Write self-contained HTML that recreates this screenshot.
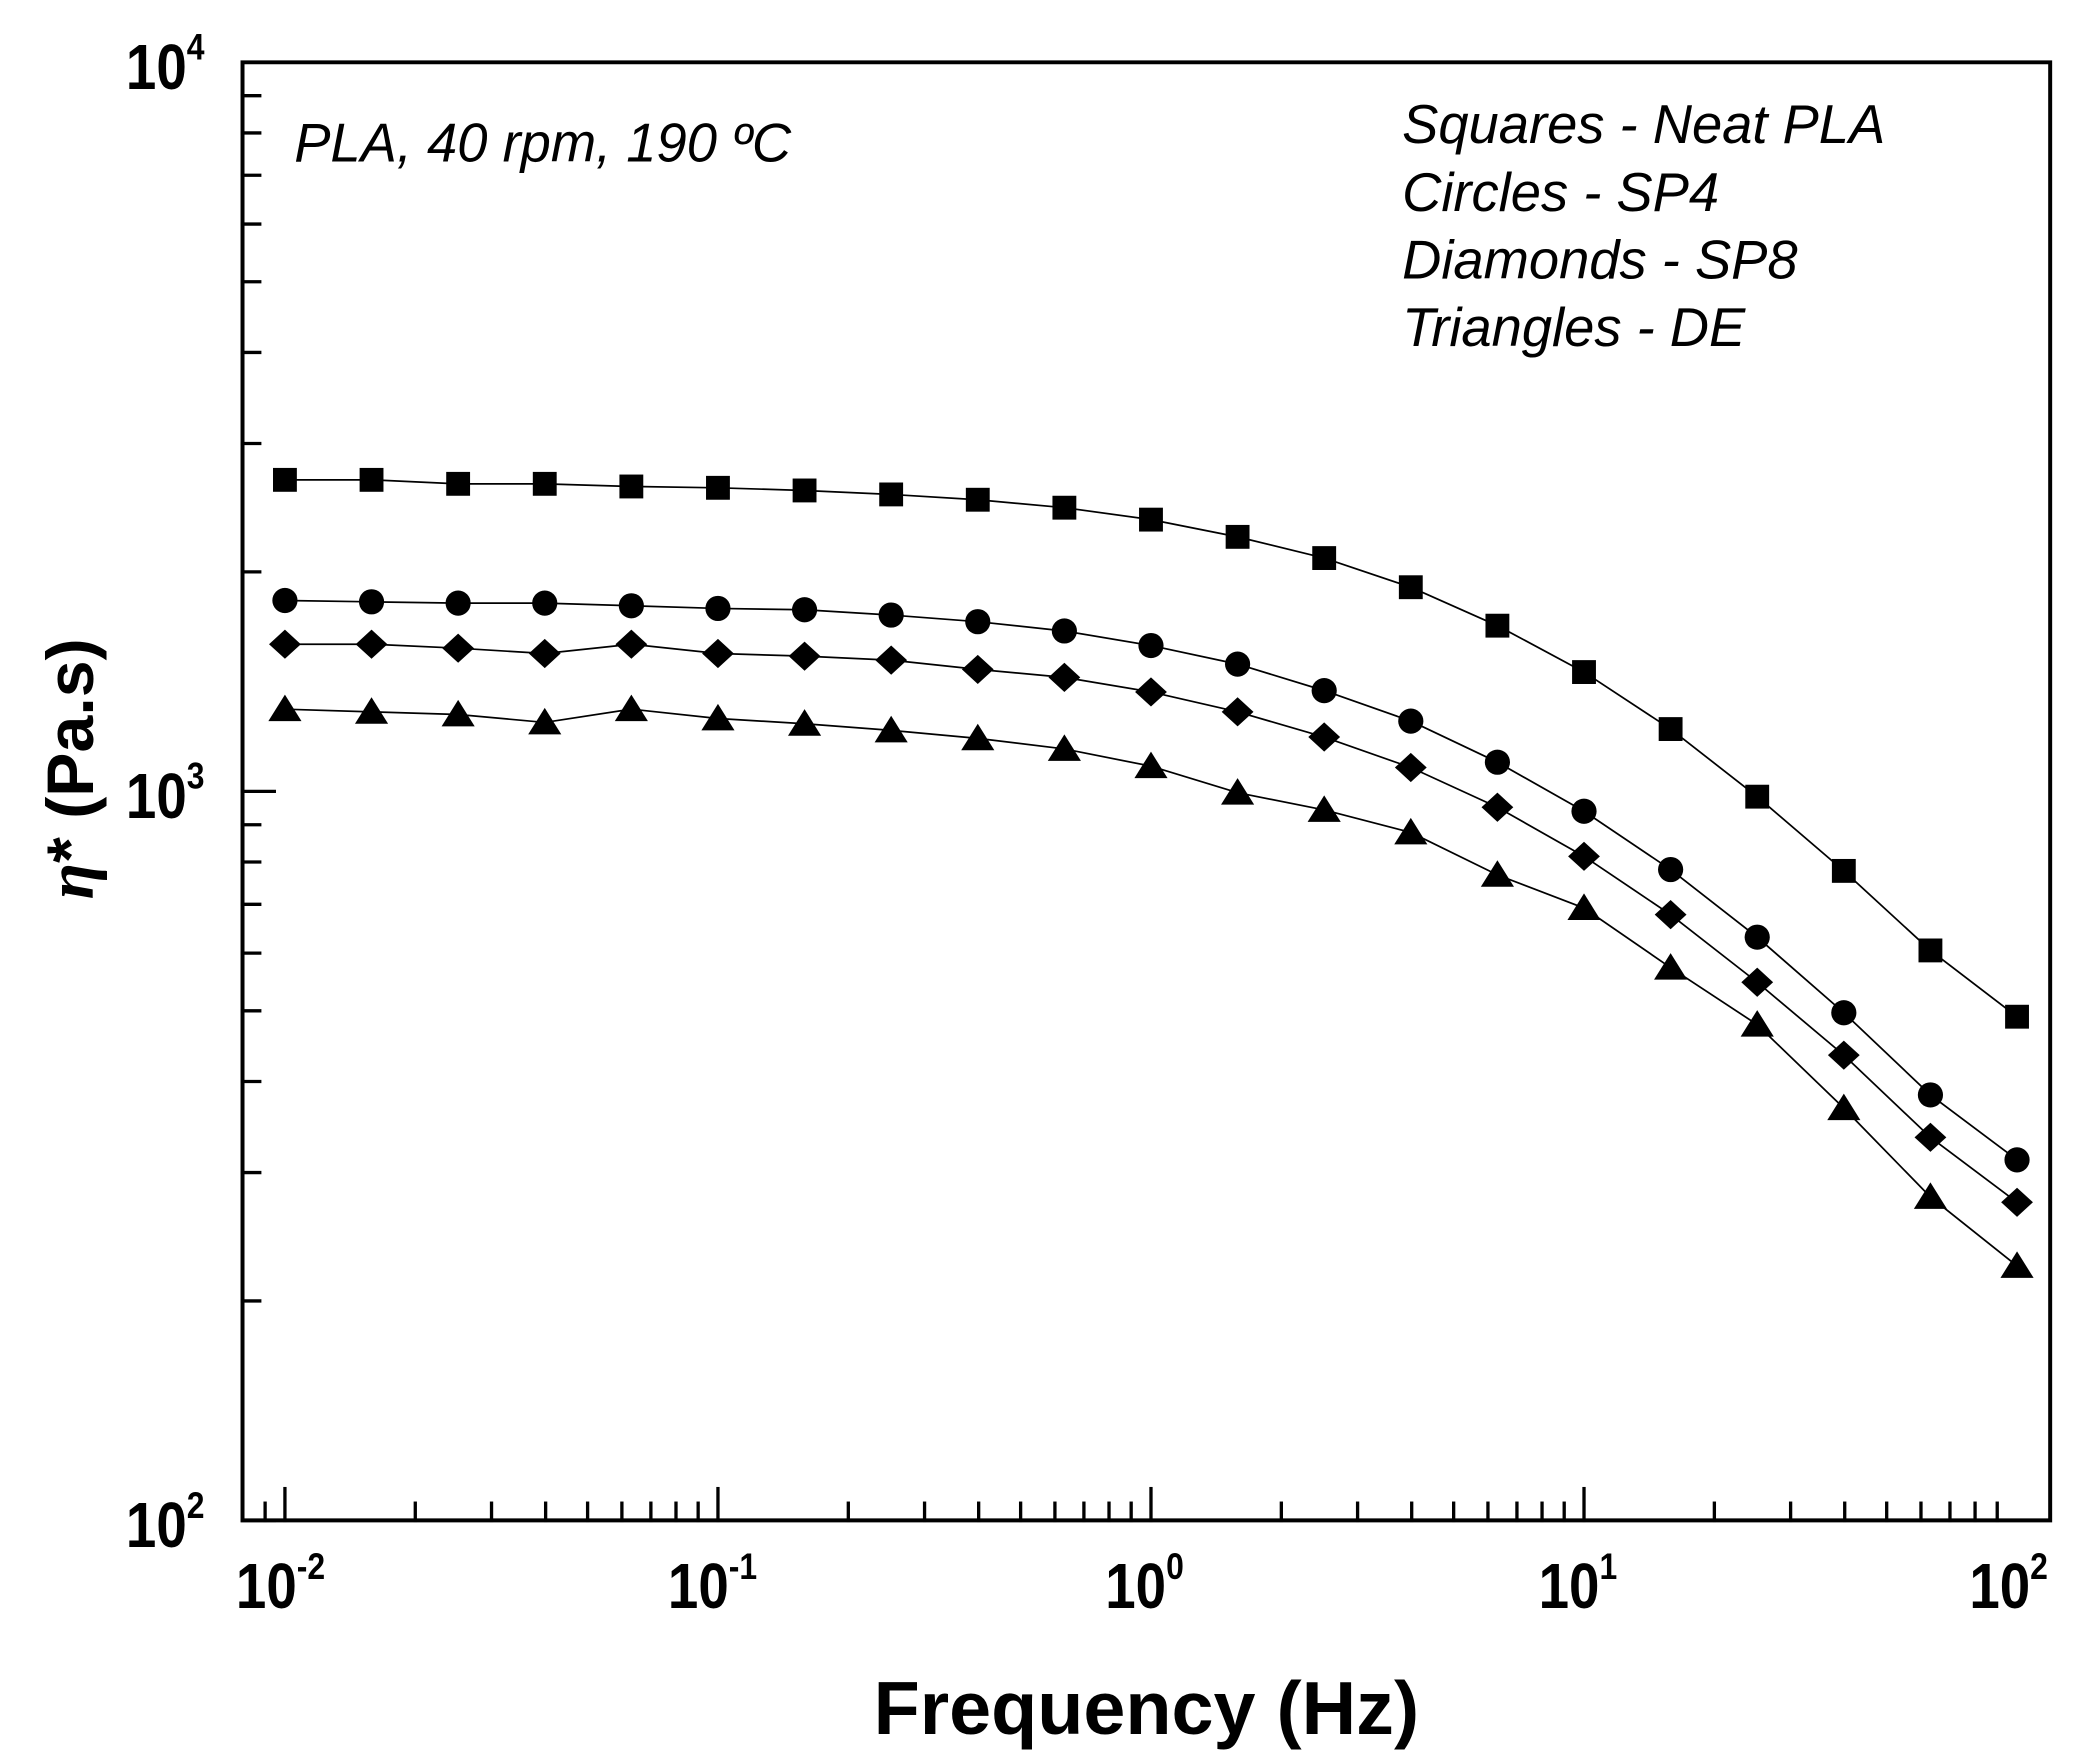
<!DOCTYPE html>
<html><head><meta charset="utf-8">
<style>html,body{margin:0;padding:0;background:#fff;}svg{display:block;}</style>
</head><body>
<svg id="s" width="2078" height="1763" viewBox="0 0 1568 1330" preserveAspectRatio="none" xmlns="http://www.w3.org/2000/svg" font-family="Liberation Sans, Arial, sans-serif">
<rect width="1568" height="1330" fill="#fff"/>
<g id="ax" stroke="#000" fill="none" stroke-linecap="square">
<path d="M183,47 L1547,47 L1547,1147 L183,1147 Z" stroke-width="3"/>
</g>
<g id="series"></g>
<g font-weight="bold" fill="#000" font-size="48">
<g transform="translate(95,67) scale(0.86,1)"><text x="0" y="0">10<tspan dy="-22" font-size="28">4</tspan></text></g>
<g transform="translate(95,617) scale(0.86,1)"><text x="0" y="0">10<tspan dy="-22" font-size="28">3</tspan></text></g>
<g transform="translate(95,1167) scale(0.86,1)"><text x="0" y="0">10<tspan dy="-22" font-size="28">2</tspan></text></g>
<g transform="translate(178,1213) scale(0.86,1)"><text x="0" y="0">10<tspan dy="-22" font-size="28">-2</tspan></text></g>
<g transform="translate(504,1213) scale(0.86,1)"><text x="0" y="0">10<tspan dy="-22" font-size="28">-1</tspan></text></g>
<g transform="translate(834,1213) scale(0.86,1)"><text x="0" y="0">10<tspan dy="-22" font-size="28">0</tspan></text></g>
<g transform="translate(1161,1213) scale(0.86,1)"><text x="0" y="0">10<tspan dy="-22" font-size="28">1</tspan></text></g>
<g transform="translate(1486,1213) scale(0.86,1)"><text x="0" y="0">10<tspan dy="-22" font-size="28">2</tspan></text></g>
<text x="865" y="1308" font-size="57" text-anchor="middle">Frequency (Hz)</text>
<text transform="translate(70,580) rotate(-90)" font-size="50" text-anchor="middle"><tspan font-style="italic" font-family="Liberation Serif, serif">η</tspan>* (Pa.s)</text>
</g>
<g font-style="italic" font-size="41" fill="#000">
<text x="222" y="122">PLA, 40 rpm, 190 ºC</text>
<text x="1058" y="108">Squares - Neat PLA</text>
<text x="1058" y="159">Circles - SP4</text>
<text x="1058" y="210">Diamonds - SP8</text>
<text x="1058" y="261">Triangles - DE</text>
</g>
</svg>
<script>
var NS="http://www.w3.org/2000/svg";
function el(p,t,a){var e=document.createElementNS(NS,t);for(var k in a)e.setAttribute(k,a[k]);p.appendChild(e);return e;}
var ax=document.getElementById('ax');
var dec=326.75, x0=215;
var lg=[0,0.30103,0.47712,0.60206,0.69897,0.77815,0.84510,0.90309,0.95424];
for(var d=-1;d<4;d++){for(var i=0;i<9;i++){var x=x0+(d+lg[i])*dec; if(x<186||x>1545)continue; var L=(i==0)?24:13; el(ax,'line',{x1:x,y1:1147,x2:x,y2:1147-L,'stroke-width':2.5});}}
for(var d=0;d<2;d++){for(var i=0;i<9;i++){var y=1147-(d+lg[i])*550; var L=(i==0)?24:13; el(ax,'line',{x1:183,y1:y,x2:183+L,y2:y,'stroke-width':2.5});}}
var S=[
[362,362,365,365,367,368,370,373,377,383,392,405,421,443,472,507,550,601,657,717,767],
[453,454,455,455,457,459,460,464,469,476,487,501,521,544,575,612,656,707,764,826,875],
[486,486,489,493,486,493,495,498,505,511,522,537,556,579,609,646,690,741,796,858,907],
[535,537,539,545,535,542,546,551,557,565,578,598,611,628,660,685,730,773,836,903,955]];
var g=document.getElementById('series');
for(var s=0;s<4;s++){var pts=[];for(var k=0;k<21;k++)pts.push((x0+k*65.35)+','+S[s][k]);
el(g,'polyline',{points:pts.join(' '),fill:'none',stroke:'#000','stroke-width':1.3});}
for(var s=0;s<4;s++){for(var k=0;k<21;k++){var x=x0+k*65.35,y=S[s][k];
if(s==0)el(g,'rect',{x:x-9,y:y-9,width:18,height:18,fill:'#000'});
else if(s==1)el(g,'circle',{cx:x,cy:y,r:9.5,fill:'#000'});
else if(s==2)el(g,'path',{d:'M'+x+','+(y-11)+' L'+(x+12)+','+y+' L'+x+','+(y+11)+' L'+(x-12)+','+y+'Z',fill:'#000'});
else el(g,'path',{d:'M'+x+','+(y-11)+' L'+(x+12.5)+','+(y+9)+' L'+(x-12.5)+','+(y+9)+'Z',fill:'#000'});}}
</script>
</body></html>
